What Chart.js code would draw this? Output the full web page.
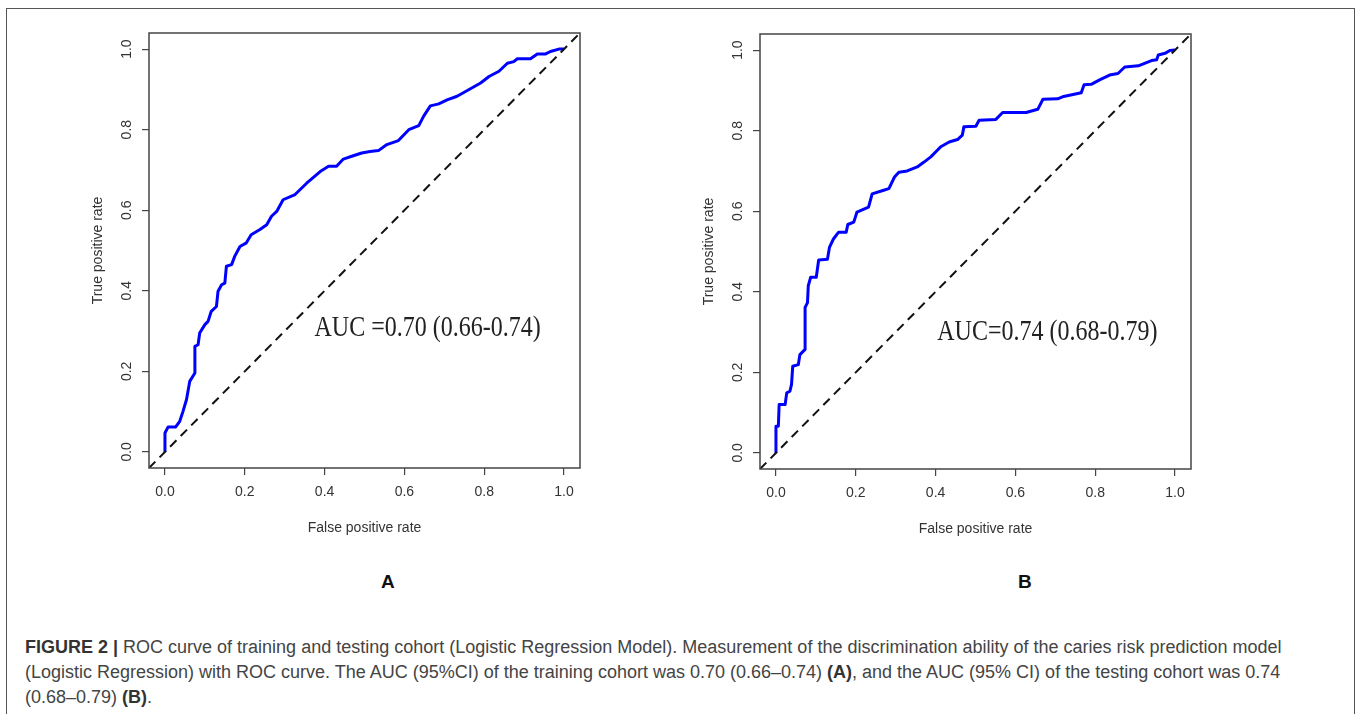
<!DOCTYPE html>
<html>
<head>
<meta charset="utf-8">
<script src="https://cdn.jsdelivr.net/npm/chart.js@4.4.0/dist/chart.umd.min.js"></script>
<style>
  body { margin:0; background:#fff; font-family:"Liberation Sans", Arial, sans-serif; }
  #frame { position:absolute; left:6px; top:8px; width:1347px; height:720px; border:1.5px solid #555; border-bottom:none; }
  canvas { position:absolute; }
  #rocA { left:60px; top:20px; }
  #rocB { left:671px; top:21px; }
  .lab { position:absolute; top:571px; font-weight:bold; font-size:19px; color:#111; }
  #caption { position:absolute; left:25px; top:635px; width:1295px; font-size:18px; line-height:25px; color:#444; }
</style>
</head>
<body>
<div id="frame"></div>
<canvas id="rocA" width="560" height="530"></canvas>
<canvas id="rocB" width="560" height="530"></canvas>
<div class="lab" style="left:381px">A</div>
<div class="lab" style="left:1018px">B</div>
<div id="caption"><b style="color:#333">FIGURE 2 |</b> ROC curve of training and testing cohort (Logistic Regression Model). Measurement of the discrimination ability of the caries risk prediction model (Logistic Regression) with ROC curve. The AUC (95%CI) of the training cohort was 0.70 (0.66–0.74) <b style="color:#333">(A)</b>, and the AUC (95% CI) of the testing cohort was 0.74 (0.68–0.79) <b style="color:#333">(B)</b>.</div>

<script>
// axis ticks (R style, 4% padding around 0..1)
const tickValues = [0, 0.2, 0.4, 0.6, 0.8, 1.0];
const tickLabels = ['0.0', '0.2', '0.4', '0.6', '0.8', '1.0'];
const axisMin = -0.04, axisMax = 1.04;

// training cohort (A)
const fprA = [0,0,0.008,0.027,0.037,0.045,0.054,0.062,0.075,0.075,0.083,0.087,0.10,0.108,0.116,0.129,0.133,0.142,0.150,0.154,0.167,0.175,0.188,0.204,0.216,0.238,0.255,0.267,0.280,0.296,0.326,0.355,0.389,0.410,0.430,0.447,0.468,0.493,0.514,0.535,0.556,0.585,0.611,0.636,0.648,0.665,0.686,0.707,0.732,0.761,0.791,0.812,0.837,0.858,0.874,0.883,0.916,0.933,0.954,0.966,0.987,1];
const tprA = [0,0.047,0.062,0.062,0.076,0.10,0.13,0.175,0.196,0.262,0.266,0.295,0.316,0.324,0.349,0.361,0.399,0.415,0.419,0.461,0.465,0.486,0.510,0.519,0.539,0.552,0.564,0.585,0.597,0.626,0.639,0.667,0.696,0.709,0.709,0.727,0.734,0.742,0.746,0.748,0.763,0.773,0.80,0.810,0.833,0.859,0.864,0.874,0.883,0.899,0.916,0.932,0.945,0.965,0.969,0.976,0.976,0.988,0.988,0.994,1,1];

// testing cohort (B)
const fprB = [0,0,0.006,0.008,0.023,0.027,0.035,0.039,0.042,0.056,0.060,0.073,0.073,0.079,0.081,0.087,0.101,0.107,0.129,0.134,0.144,0.157,0.176,0.180,0.195,0.203,0.232,0.241,0.270,0.283,0.297,0.308,0.329,0.354,0.371,0.388,0.413,0.434,0.455,0.467,0.471,0.501,0.509,0.551,0.568,0.627,0.656,0.669,0.706,0.718,0.765,0.772,0.790,0.811,0.836,0.857,0.874,0.908,0.941,0.954,0.958,0.975,0.987,1];
const tprB = [0,0.066,0.066,0.12,0.12,0.149,0.153,0.170,0.215,0.219,0.244,0.257,0.361,0.373,0.415,0.436,0.436,0.479,0.481,0.510,0.531,0.548,0.548,0.567,0.573,0.598,0.610,0.643,0.652,0.656,0.685,0.697,0.700,0.710,0.722,0.735,0.760,0.772,0.778,0.789,0.810,0.811,0.826,0.828,0.845,0.845,0.853,0.878,0.879,0.884,0.894,0.914,0.915,0.926,0.938,0.942,0.958,0.961,0.974,0.976,0.988,0.992,0.999,1];

const fontSans = '"Liberation Sans", Arial, sans-serif';

// box, rotated y tick labels and AUC text, like base R plot
const rPlot = {
  id: 'rPlot',
  afterDraw(chart, args, opts) {
    const { ctx, chartArea: a } = chart;
    const x = chart.scales.x, y = chart.scales.y;
    ctx.save();
    ctx.strokeStyle = '#444';
    ctx.lineWidth = 1.5;
    ctx.strokeRect(a.left, a.top, a.right - a.left, a.bottom - a.top);

    ctx.fillStyle = '#333';
    ctx.font = '14px ' + fontSans;
    ctx.textAlign = 'center';
    ctx.textBaseline = 'middle';
    tickValues.forEach((v, i) => {
      ctx.save();
      ctx.translate(a.left - 22, y.getPixelForValue(v));
      ctx.rotate(-Math.PI / 2);
      ctx.fillText(tickLabels[i], 0, 0);
      ctx.restore();
    });

    ctx.translate(x.getPixelForValue(opts.x), y.getPixelForValue(opts.y));
    ctx.scale(1, 1.25);
    ctx.fillStyle = '#222';
    ctx.font = '24px "Liberation Serif", "Times New Roman", serif';
    ctx.fillText(opts.text, 0, 0);
    ctx.restore();
  }
};

function axisOpts(isX) {
  return {
    type: 'linear',
    min: axisMin,
    max: axisMax,
    afterBuildTicks: s => { s.ticks = tickValues.map(v => ({ value: v })); },
    afterFit: s => { if (isX) s.height = 82; else s.width = 89; },
    border: { display: false },
    grid: { display: true, drawOnChartArea: false, drawTicks: true, tickLength: 7, color: '#444', lineWidth: 1.2 },
    ticks: {
      display: isX,
      autoSkip: false,
      maxRotation: 0,
      padding: 9,
      color: '#333',
      font: { size: 14, family: fontSans },
      callback: (v, i) => tickLabels[i]
    },
    title: {
      display: true,
      text: isX ? 'False positive rate' : 'True positive rate',
      color: '#333',
      font: { size: 14, family: fontSans },
      padding: isX ? { top: 0, bottom: 13 } : { top: 30, bottom: 0 }
    }
  };
}

function makeRoc(id, fpr, tpr, auc, ax, ay) {
  return new Chart(document.getElementById(id), {
    type: 'scatter',
    data: {
      datasets: [
        {
          data: [{ x: axisMin, y: axisMin }, { x: axisMax, y: axisMax }],
          showLine: true, borderColor: '#111', borderWidth: 2, borderDash: [9, 6],
          pointRadius: 0, order: 0
        },
        {
          data: fpr.map((v, i) => ({ x: v, y: tpr[i] })),
          showLine: true, borderColor: '#0000ff', borderWidth: 3, pointRadius: 0,
          tension: 0, borderJoinStyle: 'round', order: 1
        }
      ]
    },
    options: {
      responsive: false,
      animation: false,
      layout: { padding: { top: 13, right: 40, left: 0, bottom: 0 } },
      scales: { x: axisOpts(true), y: axisOpts(false) },
      plugins: {
        legend: { display: false },
        tooltip: { enabled: false },
        rPlot: { text: auc, x: ax, y: ay }
      }
    },
    plugins: [rPlot]
  });
}

makeRoc('rocA', fprA, tprA, 'AUC =0.70 (0.66-0.74)', 0.658, 0.308);
makeRoc('rocB', fprB, tprB, 'AUC=0.74 (0.68-0.79)', 0.68, 0.30);
</script>
</body>
</html>
